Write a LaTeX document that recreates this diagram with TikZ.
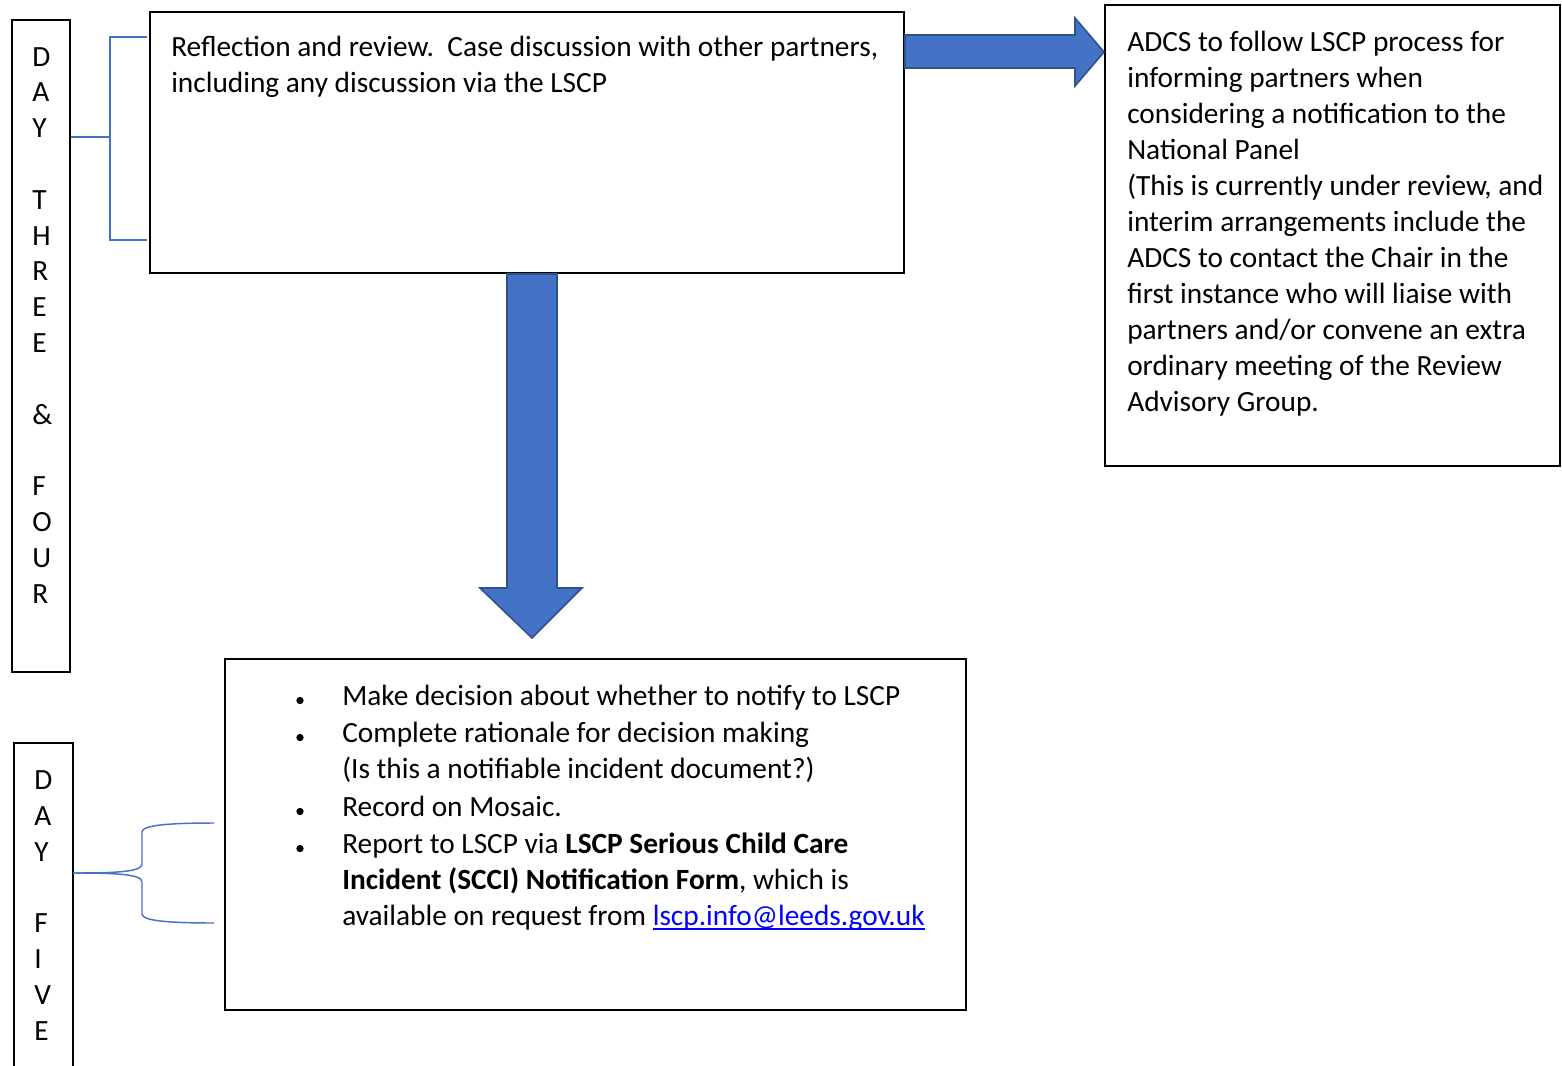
\documentclass[tikz,border=0pt]{standalone}
\usepackage{fontspec}
\setmainfont{Carlito}
\usetikzlibrary{fit}
\definecolor{arrowblue}{HTML}{4472C4}
\definecolor{arrowedge}{HTML}{2F528F}
\definecolor{linkblue}{HTML}{0000FF}
\newlength\ulw
\newcommand\ulink[1]{\settowidth\ulw{#1}\rlap{\rule[-3pt]{\ulw}{1.2pt}}#1}
\begin{document}
\begin{tikzpicture}[%every node/.style={draw=red},
	x=0.75pt,y=-0.75pt,
	box/.style={draw, line width=1.5pt, inner sep=0pt},
	txt/.style={anchor=base west, align=left, inner sep=0pt, font=\fontsize{22}{27}\selectfont},
	letters/.style={anchor=base west, align=left, inner sep=0pt, font=\fontsize{22}{26.85}\selectfont},
	brace/.style={draw=arrowblue, line width=1.1pt},
	blockarrow/.style={fill=arrowblue, draw=arrowedge, line width=1.2pt, line join=miter},
	dot/.style={fill=black, circle, inner sep=0pt, minimum size=5.5pt}]
\useasboundingbox (0,0) rectangle (1562,1066);
\node[box, fit={(12,20) (70,672)}](D34) {};
\node[box, fit={(150,12) (904,273)}](R) {};
\node[box, fit={(1105,5) (1560,466)}](A) {};
\node[box, fit={(225,659) (966,1010)}](M) {};
\draw[box] (14,1072) |- (73,743) coordinate(D5) -- (73,1072);
% base anchor = last line
\node[letters](L34) at (32,603) {D\\A\\Y\\~\\T\\H\\R\\E\\E\\~\\\&\\~\\F\\O\\U\\R};
\node[letters](L5) at (34,1040) {D\\A\\Y\\~\\F\\I\\V\\E};
\node[txt](Rtxt) at (171,93) {Reflection and review.\ \ Case discussion with other partners,\\including any discussion via the LSCP};
\node[txt](Atxt) at (1127,411) {ADCS to follow LSCP process for\\informing partners when\\considering a notification to the\\National Panel\\(This is currently under review, and\\interim arrangements include the\\ADCS to contact the Chair in the\\first instance who will liaise with\\partners and/or convene an extra\\ordinary meeting of the Review\\Advisory Group.};
\node[txt](Mtxt) at (342,925.5) {Make decision about whether to notify to LSCP\\[1pt]
	Complete rationale for decision making\\
	(Is this a notifiable incident document?)\\[1pt]
	Record on Mosaic.\\[1pt]
	Report to LSCP via \textbf{LSCP Serious Child Care}\\
	\textbf{Incident (SCCI) Notification Form}, which is\\
	available on request from \textcolor{linkblue}{\ulink{lscp.info@leeds.gov.uk}}};
\foreach \y [count=\i] in {705.5,742.5,816.5,853.5}
	\node[dot](b\i) at (300,\y-5) {};
\draw[blockarrow] (R.east |- 0,35) -- (1075,35) -- (1075,18) -- (A.west |- 0,52)
	-- (1075,86) -- (1075,68) -- (R.east |- 0,68) -- cycle;
\draw[blockarrow] (507,0 |- R.south) -- (507,588) -- (480,588) -- (532,638)
	-- (582,588) -- (557,588) -- (557,0 |- R.south) -- cycle;
\coordinate (t34) at (D34.east |- 0,137);
\draw[brace] (t34) -- (110,137) (147,37) -- (110,37) -- (110,240) -- (147,240);
\coordinate (t5) at (D5 |- 0,873);
\draw[brace] (t5) .. controls (115,873) and (142,872) .. (142,864) -- (142,832)
	.. controls (142,825) and (170,823) .. (214,823);
\draw[brace] (t5) .. controls (115,873) and (142,874) .. (142,882) -- (142,914)
	.. controls (142,921) and (170,923) .. (214,923);
\end{tikzpicture}
\end{document}
